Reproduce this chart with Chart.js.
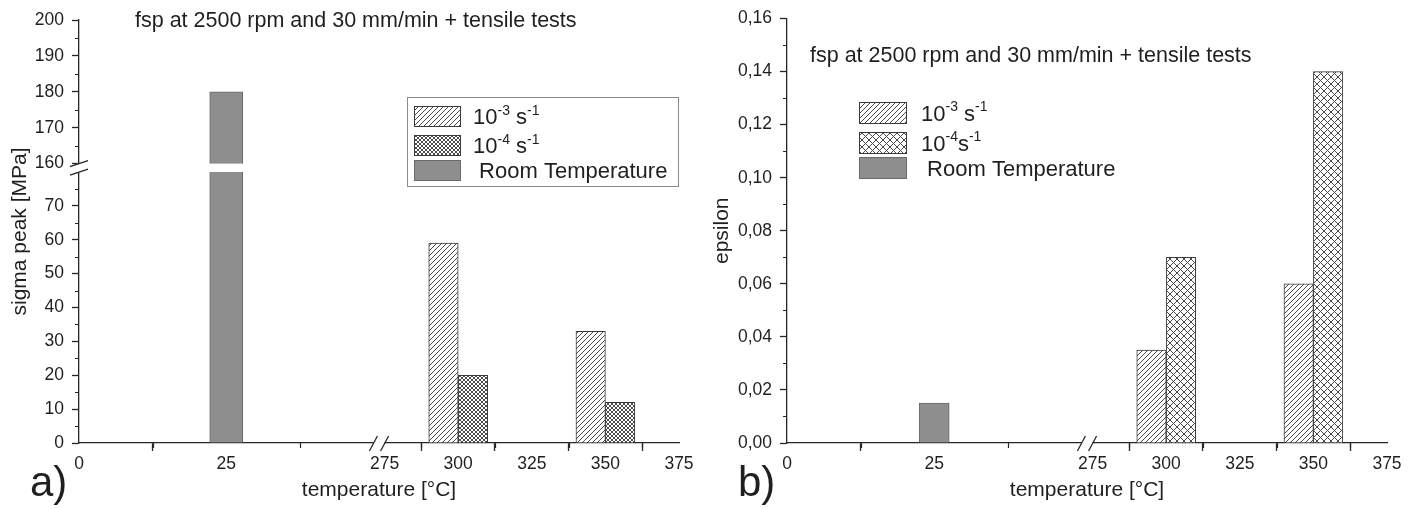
<!DOCTYPE html>
<html><head><meta charset="utf-8">
<script src="https://cdn.jsdelivr.net/npm/chart.js@4.4.1/dist/chart.umd.min.js"></script>
<style>
html,body{margin:0;padding:0;background:#fff;width:1415px;height:509px;overflow:hidden;}
.panel{position:absolute;top:0;height:509px;}
#pa{left:0;width:708px;}
#pb{left:708px;width:707px;}
canvas{display:block;}
</style></head>
<body>
<div id="pa" class="panel"><canvas id="ca" width="708" height="509"></canvas></div>
<div id="pb" class="panel"><canvas id="cb" width="707" height="509"></canvas></div>
<script>
// ---------------- data ----------------
const temperatures = [25, 300, 350];              // °C (categories)
const sigmaRoomTemp = [180, null, null];          // MPa
const sigmaRate3 = [null, 59, 33];                // 10^-3 s^-1
const sigmaRate4 = [null, 20, 12];                // 10^-4 s^-1
const epsRoomTemp = [0.015, null, null];
const epsRate3 = [null, 0.035, 0.06];
const epsRate4 = [null, 0.07, 0.14];
const xTickValues = [0, 25, 275, 300, 325, 350, 375];
const xMinorValues = [12.5, 37.5, 287.5, 312.5, 337.5, 362.5];
const sigmaTickValues = [0, 10, 20, 30, 40, 50, 60, 70, 160, 170, 180, 190, 200];
const sigmaMinorValues = [5, 15, 25, 35, 45, 55, 65, 75, 165, 175, 185, 195];
const epsTickValues = [0, 0.02, 0.04, 0.06, 0.08, 0.10, 0.12, 0.14, 0.16];
const epsMinorValues = [0.01, 0.03, 0.05, 0.07, 0.09, 0.11, 0.13, 0.15];
const annotationText = 'fsp at 2500 rpm and 30 mm/min + tensile tests';
const legendLabelsA = [
  [{t:'10'},{t:'-3',sup:true},{t:' s'},{t:'-1',sup:true}],
  [{t:'10'},{t:'-4',sup:true},{t:' s'},{t:'-1',sup:true}],
  [{t:' Room Temperature'}]
];
const legendLabelsB = [
  [{t:'10'},{t:'-3',sup:true},{t:' s'},{t:'-1',sup:true}],
  [{t:'10'},{t:'-4',sup:true},{t:'s'},{t:'-1',sup:true}],
  [{t:' Room Temperature'}]
];

// ---------------- broken-axis mappings ----------------
const X_BREAK_LO = 50, X_BREAK_HI = 275, X_GAP = 1.9, X_COMPRESS = 2;
function xv(t){ return t <= X_BREAK_LO ? t : X_BREAK_LO + X_GAP + (t - X_BREAK_HI) / X_COMPRESS; }
const Y_BREAK_LO = 80, Y_BREAK_HI = 160, Y_GAP = 2.48, Y_STRETCH = 1.06;
function yvSigma(s){ return s <= Y_BREAK_LO ? s : Y_BREAK_LO + Y_GAP + (s - Y_BREAK_HI) * Y_STRETCH; }
function yvEps(e){ return e; }

const AXIS = '#262626', TEXT = '#1f1f1f', FONT = "'Liberation Sans', Arial, sans-serif";
const ROOM_FILL = '#8e8e8e', ROOM_BORDER = '#6a6a6a', BAR_BORDER = '#3a3a3a';

function makePattern(ctx, kind){
  const s = kind === 'diag' ? 5 : (kind === 'fine' ? 4 : 7);
  const c = document.createElement('canvas');
  c.width = s; c.height = s;
  const g = c.getContext('2d');
  g.fillStyle = '#fff'; g.fillRect(0,0,s,s);
  g.strokeStyle = kind === 'fine' ? '#3a3a3a' : '#4a4a4a';
  g.lineWidth = kind === 'fine' ? 0.9 : 1;
  g.beginPath();
  for (const c0 of [0, s, 2*s]) { g.moveTo(c0 + 1, -1); g.lineTo(c0 - s - 1, s + 1); }
  if (kind !== 'diag') for (const c0 of [-s, 0, s]) { g.moveTo(c0 - 1, -1); g.lineTo(c0 + s + 1, s + 1); }
  g.stroke();
  return ctx.createPattern(c, 'repeat');
}

function points(vals, yMap){
  return temperatures.map((t, i) => ({ x: xv(t), y: vals[i] == null ? null : yMap(vals[i]) }));
}

function richText(ctx, x, y, parts, size){
  let cx = x;
  ctx.fillStyle = TEXT;
  ctx.textBaseline = 'alphabetic';
  ctx.textAlign = 'left';
  parts.forEach(p => {
    const fs = p.sup ? Math.round(size * 0.62) : size;
    ctx.font = fs + 'px ' + FONT;
    ctx.fillText(p.t, cx, p.sup ? y - size * 0.42 : y);
    cx += ctx.measureText(p.t).width;
  });
}

const decorations = {
  id: 'decorations',
  afterDraw(chart, _args, o){
    const ctx = chart.ctx, xs = chart.scales.x, ys = chart.scales.y, a = chart.chartArea;
    ctx.save();
    ctx.strokeStyle = AXIS; ctx.lineWidth = 1.3;
    // y-axis break (white gap + slashes)
    if (o.yBreak){
      const y1 = ys.getPixelForValue(o.yMap(Y_BREAK_HI)), y2 = ys.getPixelForValue(Y_BREAK_LO);
      ctx.fillStyle = '#fff';
      ctx.fillRect(a.left - 2, y1, a.right - a.left + 2, y2 - y1);
      ctx.beginPath();
      [y1, y2].forEach(y => { ctx.moveTo(a.left - 9, y + 3); ctx.lineTo(a.left + 9, y - 3); });
      ctx.stroke();
    }
    // x-axis break
    const x1 = xs.getPixelForValue(X_BREAK_LO), x2 = xs.getPixelForValue(X_BREAK_LO + X_GAP);
    ctx.fillStyle = '#fff';
    ctx.fillRect(x1, a.bottom - 2, x2 - x1, 4);
    ctx.beginPath();
    [x1, x2].forEach(x => { ctx.moveTo(x - 4, a.bottom + 8); ctx.lineTo(x + 4, a.bottom - 7); });
    ctx.stroke();
    // minor ticks
    ctx.lineWidth = 1.2;
    ctx.beginPath();
    xMinorValues.forEach(t => { const px = Math.round(xs.getPixelForValue(xv(t))) + 0.5; ctx.moveTo(px, a.bottom); ctx.lineTo(px, a.bottom + 5); });
    o.yMinor.forEach(v => { const py = Math.round(ys.getPixelForValue(o.yMap(v))) + 0.5; ctx.moveTo(a.left - 4, py); ctx.lineTo(a.left, py); });
    ctx.stroke();
    // legend
    const L = o.legend;
    if (L.box){
      ctx.strokeStyle = '#8a8a8a'; ctx.lineWidth = 1;
      ctx.strokeRect(L.box[0] + 0.5, L.box[1] + 0.5, L.box[2], L.box[3]);
    }
    chart.data.datasets.forEach((ds, k) => {
      const row = L.order[k];
      const top = L.rows[row];
      ctx.fillStyle = ds.backgroundColor;
      ctx.fillRect(L.swX, top, L.swW, L.swH);
      ctx.strokeStyle = ds.borderColor; ctx.lineWidth = 1;
      ctx.strokeRect(L.swX + 0.5, top + 0.5, L.swW - 1, L.swH - 1);
      richText(ctx, L.textX, top + L.swH / 2 + 7.5, L.labels[row], L.size);
    });
    // annotation text
    ctx.fillStyle = TEXT; ctx.font = o.note.size + 'px ' + FONT;
    ctx.textBaseline = 'alphabetic'; ctx.textAlign = 'left';
    ctx.fillText(annotationText, o.note.x, o.note.y);
    // panel label
    ctx.font = '42px ' + FONT;
    ctx.fillText(o.panel.text, o.panel.x, o.panel.y);
    ctx.restore();
  }
};

function buildChart(id, p){
  const canvas = document.getElementById(id);
  const ctx = canvas.getContext('2d');
  const diag = makePattern(ctx, 'diag');
  const cross = makePattern(ctx, p.crossKind);
  const yLabels = p.yTicks.map(p.yFmt);
  const datasets = [
    { label: 'Room Temperature', data: points(p.room, p.yMap), backgroundColor: ROOM_FILL, borderColor: ROOM_BORDER, barThickness: p.roomWidth },
    { label: '10^-3 s^-1', data: points(p.rate3, p.yMap), backgroundColor: diag, borderColor: BAR_BORDER, barThickness: 29.45 },
    { label: '10^-4 s^-1', data: points(p.rate4, p.yMap), backgroundColor: cross, borderColor: BAR_BORDER, barThickness: 29.45 }
  ];
  return new Chart(canvas, {
    type: 'bar',
    data: { datasets },
    options: {
      responsive: false, animation: false, devicePixelRatio: 1, events: [],
      layout: { padding: p.padding },
      datasets: { bar: { grouped: true, skipNull: true, borderWidth: 1, categoryPercentage: 1, barPercentage: 1 } },
      plugins: { legend: { display: false }, tooltip: { enabled: false }, title: { display: false },
        decorations: { yMap: p.yMap, yMinor: p.yMinor, yBreak: p.yBreak, legend: p.legend, note: p.note, panel: p.panel } },
      scales: {
        x: {
          type: 'linear', min: 0, max: xv(375), offset: false, z: 1,
          afterBuildTicks: s => { s.ticks = xTickValues.map(t => ({ value: xv(t) })); },
          afterFit: s => { s.height = 66; },
          ticks: { autoSkip: false, maxRotation: 0, padding: 3, color: TEXT, font: { family: FONT, size: 17.5 },
                   callback: (v, i) => String(xTickValues[i]) },
          grid: { drawOnChartArea: false, drawTicks: true, tickLength: 8, tickWidth: 1.3,
                  tickColor: c => (xTickValues[c.index] === X_BREAK_HI ? 'rgba(0,0,0,0)' : AXIS) },
          border: { display: true, color: AXIS, width: 1.3 },
          title: { display: true, text: 'temperature [°C]', color: TEXT, font: { family: FONT, size: 21 }, padding: { top: 0, bottom: 6 } }
        },
        y: {
          type: 'linear', min: 0, max: p.yMap(p.yTicks[p.yTicks.length - 1]),
          afterBuildTicks: s => { s.ticks = p.yTicks.map(v => ({ value: p.yMap(v) })); },
          afterFit: s => { s.width = 79; },
          ticks: { autoSkip: false, padding: 8, color: TEXT, font: { family: FONT, size: 17.5 },
                   callback: (v, i) => yLabels[i] },
          grid: { drawOnChartArea: false, drawTicks: true, tickLength: 7, tickWidth: 1.3, tickColor: AXIS },
          border: { display: true, color: AXIS, width: 1.3 },
          title: { display: true, text: p.yTitle, color: TEXT, font: { family: FONT, size: 21 }, padding: { top: p.yTitlePad, bottom: 0 } }
        }
      }
    },
    plugins: [decorations]
  });
}

buildChart('ca', {
  room: sigmaRoomTemp, rate3: sigmaRate3, rate4: sigmaRate4,
  yMap: yvSigma, yTicks: sigmaTickValues, yMinor: sigmaMinorValues, yFmt: v => String(v),
  yBreak: true, crossKind: 'fine', roomWidth: 33,
  yTitle: 'sigma peak [MPa]', yTitlePad: 8,
  padding: { left: 0, right: 29, top: 20, bottom: 0 },
  legend: { box: [407, 97, 271, 89], order: [2, 0, 1], rows: [106, 135, 160], swX: 414, swW: 47, swH: 21,
            textX: 473, labels: legendLabelsA, size: 22 },
  note: { x: 135, y: 27, size: 21.5 },
  panel: { text: 'a)', x: 30, y: 496 }
});

buildChart('cb', {
  room: epsRoomTemp, rate3: epsRate3, rate4: epsRate4,
  yMap: yvEps, yTicks: epsTickValues, yMinor: epsMinorValues, yFmt: v => v.toFixed(2).replace('.', ','),
  yBreak: false, crossKind: 'coarse', roomWidth: 30,
  yTitle: 'epsilon', yTitlePad: 2,
  padding: { left: 0, right: 28, top: 17, bottom: 0 },
  legend: { box: null, order: [2, 0, 1], rows: [102, 132, 157], swX: 151, swW: 48, swH: 22,
            textX: 213, labels: legendLabelsB, size: 22 },
  note: { x: 102, y: 62, size: 21.5 },
  panel: { text: 'b)', x: 30, y: 496 }
});
</script>
</body></html>
